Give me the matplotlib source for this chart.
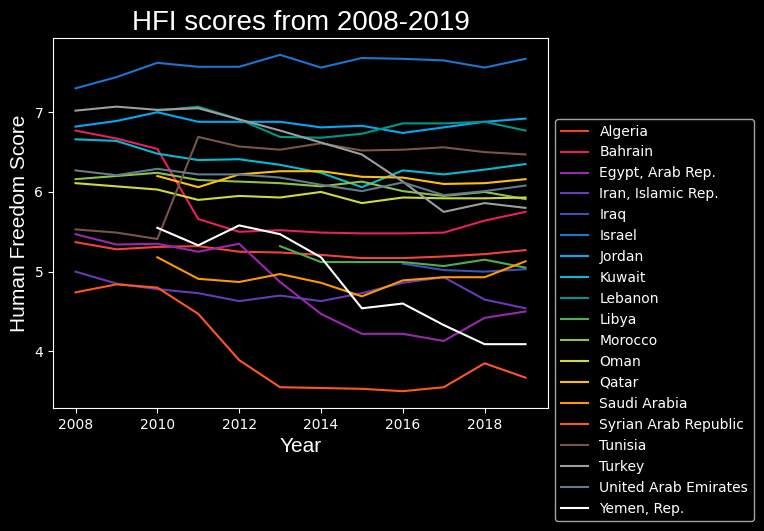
import matplotlib.pyplot as plt

plt.style.use('dark_background')

years = list(range(2008, 2020))

countries = ["Algeria", "Bahrain", "Egypt, Arab Rep.", "Iran, Islamic Rep.", "Iraq",
             "Israel", "Jordan", "Kuwait", "Lebanon", "Libya", "Morocco", "Oman",
             "Qatar", "Saudi Arabia", "Syrian Arab Republic", "Tunisia", "Turkey",
             "United Arab Emirates", "Yemen, Rep."]

colors = ["#F44336", "#E91E63", "#9C27B0", "#673AB7", "#3F51B5", "#1976D2",
          "#03A9F4", "#00BCD4", "#009688", "#4CAF50", "#8BC34A", "#CDDC39",
          "#FFC107", "#FF9800", "#FF5722", "#795548", "#9E9E9E", "#607D8B", "#FFFFFF"]

# None = no score that year
algeria = [5.37, 5.28, 5.31, 5.32, 5.25, 5.24, 5.21, 5.17, 5.17, 5.19, 5.22, 5.27]
bahrain = [6.77, 6.67, 6.54, 5.66, 5.50, 5.52, 5.49, 5.48, 5.48, 5.49, 5.64, 5.75]
egypt = [5.47, 5.34, 5.35, 5.25, 5.35, 4.87, 4.47, 4.22, 4.22, 4.13, 4.42, 4.50]
iran = [5.00, 4.85, 4.78, 4.73, 4.63, 4.70, 4.63, 4.73, 4.86, 4.93, 4.65, 4.54]
iraq = [None, None, None, None, None, None, None, None, 5.10, 5.02, 5.00, 5.03]
israel = [7.30, 7.44, 7.62, 7.57, 7.57, 7.72, 7.56, 7.68, 7.67, 7.65, 7.56, 7.67]
jordan = [6.82, 6.89, 7.00, 6.88, 6.88, 6.88, 6.81, 6.83, 6.74, 6.81, 6.88, 6.92]
kuwait = [6.66, 6.64, 6.48, 6.40, 6.41, 6.34, 6.24, 6.06, 6.27, 6.22, 6.28, 6.35]
lebanon = [None, None, 7.02, 7.07, 6.91, 6.69, 6.68, 6.73, 6.86, 6.86, 6.88, 6.77]
libya = [None, None, None, None, None, 5.32, 5.12, 5.12, 5.12, 5.07, 5.15, 5.05]
morocco = [6.16, 6.20, 6.24, 6.15, 6.13, 6.11, 6.07, 6.13, 6.01, 5.95, 6.00, 5.91]
oman = [6.11, 6.07, 6.03, 5.90, 5.95, 5.93, 6.00, 5.86, 5.93, 5.92, 5.92, 5.93]
qatar = [None, None, 6.20, 6.06, 6.22, 6.26, 6.26, 6.19, 6.18, 6.10, 6.11, 6.16]
saudi = [None, None, 5.18, 4.91, 4.87, 4.97, 4.86, 4.69, 4.89, 4.93, 4.93, 5.13]
syria = [4.74, 4.84, 4.80, 4.47, 3.89, 3.55, 3.54, 3.53, 3.50, 3.55, 3.85, 3.67]
tunisia = [5.53, 5.49, 5.41, 6.69, 6.57, 6.53, 6.61, 6.52, 6.53, 6.56, 6.50, 6.47]
turkey = [7.02, 7.07, 7.03, 7.05, 6.91, 6.77, 6.62, 6.47, 6.13, 5.75, 5.86, 5.80]
uae = [6.27, 6.21, 6.29, 6.22, 6.22, 6.18, 6.09, 6.01, 6.12, 5.96, 6.01, 6.08]
yemen = [None, None, 5.55, 5.33, 5.58, 5.47, 5.18, 4.54, 4.60, 4.33, 4.09, 4.09]

scores = [algeria, bahrain, egypt, iran, iraq, israel, jordan, kuwait, lebanon, libya,
          morocco, oman, qatar, saudi, syria, tunisia, turkey, uae, yemen]

fig = plt.figure(figsize=(7.64, 5.31), dpi=100)
ax = fig.add_axes([0.0694, 0.2316, 0.6479, 0.6968])

for name, vals, c in zip(countries, scores, colors):
    xs = [y for y, v in zip(years, vals) if v is not None]
    ys = [v for v in vals if v is not None]
    ax.plot(xs, ys, label=name, color=c)

ax.set_title("HFI scores from 2008-2019", fontsize=20, family='Liberation Sans')
ax.set_xlabel("Year", fontsize=15, family='Liberation Sans')
ax.set_ylabel("Human Freedom Score", fontsize=15, family='Liberation Sans')
ax.set_yticks([4, 5, 6, 7])
ax.legend(loc='upper left', bbox_to_anchor=(1.0, 0.80))

plt.savefig("out.png", dpi=100)
